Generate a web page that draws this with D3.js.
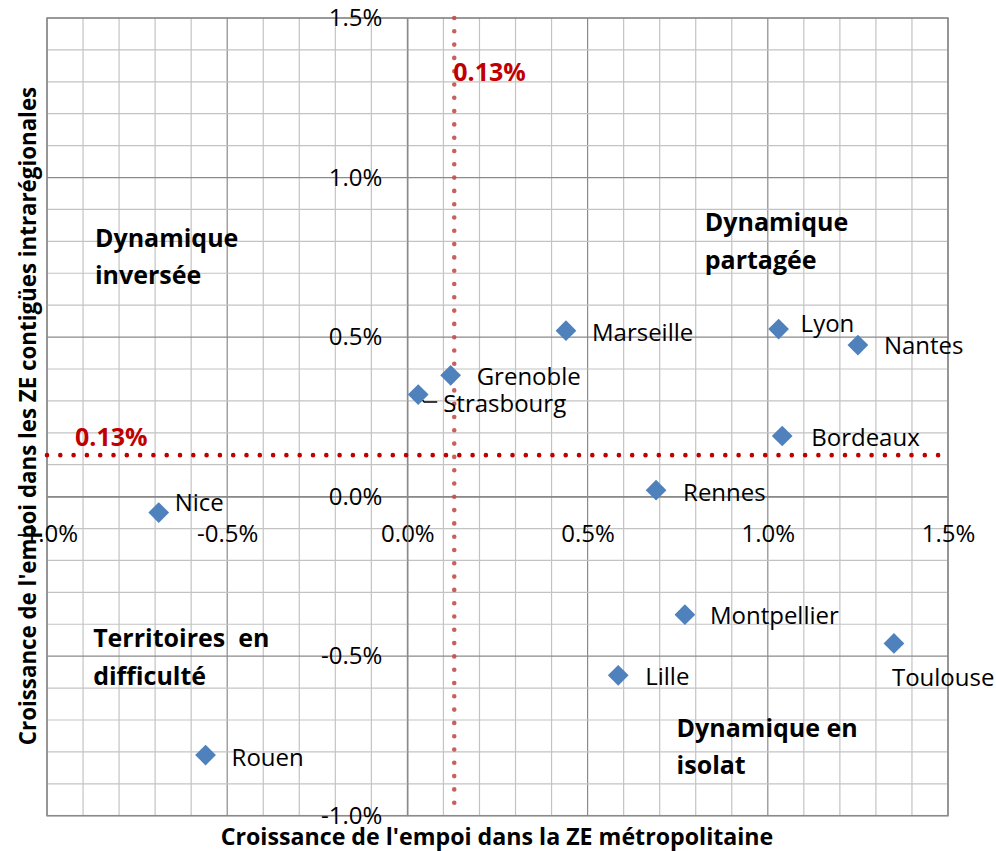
<!DOCTYPE html>
<html>
<head>
<meta charset="utf-8">
<script src="https://cdn.jsdelivr.net/npm/d3@7/dist/d3.min.js"></script>
<style>
  body { margin: 0; background: #fff; }
  svg { display: block; font-family: "Open Sans", sans-serif; }
</style>
</head>
<body>
<svg id="chart" width="996" height="851"></svg>
<script>
const cities = ["Nice", "Rouen", "Rennes", "Grenoble", "Strasbourg", "Marseille",
  "Lyon", "Nantes", "Bordeaux", "Montpellier", "Lille", "Toulouse"]
// croissance dans la ZE metropolitaine (%)
const metroGrowth = [-0.69, -0.56, 0.69, 0.12, 0.03, 0.44, 1.03, 1.25, 1.04, 0.77, 0.585, 1.35]
// croissance dans les ZE contigues intraregionales (%)
const regionGrowth = [-0.05, -0.81, 0.02, 0.38, 0.32, 0.52, 0.525, 0.475, 0.19, -0.37, -0.56, -0.46]
const threshold = 0.13
const axisTicks = [-1.0, -0.5, 0.0, 0.5, 1.0, 1.5]

// label offsets from the diamond (px)
const labelDx = [16, 26, 27, 26, 25, 26, 22, 26, 29, 25, 27, -2]
const labelDy = [-2, 11, 11, 10, 17, 10, 3, 9, 10, 9, 10, 43]

const quadrants = [
  { lines: ["Dynamique", "inversée"], x: -0.867, y: 0.783 },
  { lines: ["Dynamique", "partagée"], x: 0.825, y: 0.832 },
  { lines: ["Territoires  en", "difficulté"], x: -0.872, y: -0.472 },
  { lines: ["Dynamique en", "isolat"], x: 0.747, y: -0.753 }
]

const svg = d3.select("#chart")
const x = d3.scaleLinear().domain([-1, 1.5]).range([47, 948])
const y = d3.scaleLinear().domain([-1, 1.5]).range([815.7, 18])
const fmt = d => d.toFixed(1) + "%"

// grid
const grid = svg.append("g")
grid.selectAll(".vx").data(x.ticks(25)).join("line")
  .attr("x1", d => x(d)).attr("x2", d => x(d))
  .attr("y1", y(1.5)).attr("y2", y(-1))
  .attr("stroke", (d, i) => i % 5 == 0 ? "#8a8a8a" : "#c3c3c3")
  .attr("stroke-width", 1.2)
grid.selectAll(".hy").data(y.ticks(25)).join("line")
  .attr("y1", d => y(d)).attr("y2", d => y(d))
  .attr("x1", x(-1)).attr("x2", x(1.5))
  .attr("stroke", (d, i) => i % 5 == 0 ? "#8a8a8a" : "#c3c3c3")
  .attr("stroke-width", 1.2)
svg.append("rect")
  .attr("x", x(-1)).attr("y", y(1.5))
  .attr("width", x(1.5) - x(-1)).attr("height", y(-1) - y(1.5))
  .attr("fill", "none").attr("stroke", "#8a8a8a").attr("stroke-width", 1.5)

// axes crossing at 0
const xAxis = svg.append("g")
  .attr("transform", `translate(0,${y(0)})`)
  .call(d3.axisBottom(x).tickValues(axisTicks).tickFormat(fmt).tickSize(0).tickPadding(28))
const yAxis = svg.append("g")
  .attr("transform", `translate(${x(0)},0)`)
  .call(d3.axisLeft(y).tickValues(axisTicks).tickFormat(fmt).tickSize(0).tickPadding(25))
for (const g of [xAxis, yAxis]) {
  g.select(".domain").attr("stroke", "#8a8a8a").attr("stroke-width", 1.2)
  g.selectAll("text")
    .attr("font-family", "Open Sans, sans-serif")
    .attr("font-size", 24)
    .attr("fill", "#000")
}

// threshold lines
svg.append("line")
  .attr("x1", x(threshold)).attr("x2", x(threshold))
  .attr("y1", y(1.5)).attr("y2", y(-1))
  .attr("stroke", "#c0504d").attr("stroke-opacity", 0.9)
  .attr("stroke-width", 4.6).attr("stroke-linecap", "round")
  .attr("stroke-dasharray", "0 13.3")
svg.append("line")
  .attr("x1", x(-1)).attr("x2", x(1.5))
  .attr("y1", y(threshold)).attr("y2", y(threshold))
  .attr("stroke", "#c00000")
  .attr("stroke-width", 4.6).attr("stroke-linecap", "round")
  .attr("stroke-dasharray", "0 13.3")

svg.append("text")
  .attr("x", x(threshold) - 1).attr("y", 81)
  .attr("font-size", 25).attr("font-weight", "bold").attr("fill", "#c00000")
  .text(threshold.toFixed(2) + "%")
svg.append("text")
  .attr("x", 75).attr("y", y(threshold) - 9)
  .attr("font-size", 25).attr("font-weight", "bold").attr("fill", "#c00000")
  .text(threshold.toFixed(2) + "%")

// quadrant captions
quadrants.forEach(q => {
  svg.append("text")
    .attr("x", x(q.x)).attr("y", y(q.y))
    .attr("font-size", 25).attr("font-weight", "bold").attr("fill", "#000")
    .attr("xml:space", "preserve")
    .selectAll("tspan").data(q.lines).join("tspan")
    .attr("x", x(q.x)).attr("dy", (d, i) => i == 0 ? 0 : 37.5)
    .text(d => d)
})

// Strasbourg leader line
const si = cities.indexOf("Strasbourg")
const sx = x(metroGrowth[si]), sy = y(regionGrowth[si])
svg.append("path")
  .attr("d", d3.line()([[sx + 2, sy + 3], [sx + 6, sy + 7.5], [sx + 19, sy + 7.5]]))
  .attr("fill", "none").attr("stroke", "#000").attr("stroke-width", 1.3)

// points
svg.append("g").selectAll("path").data(cities).join("path")
  .attr("d", d3.symbol(d3.symbolSquare, 215))
  .attr("transform", (d, i) => `translate(${x(metroGrowth[i])},${y(regionGrowth[i])}) rotate(45)`)
  .attr("fill", "#4f81bd")

svg.append("g").selectAll("text").data(cities).join("text")
  .attr("x", (d, i) => x(metroGrowth[i]) + labelDx[i])
  .attr("y", (d, i) => y(regionGrowth[i]) + labelDy[i])
  .attr("font-size", 24).attr("fill", "#000")
  .text(d => d)

// axis titles
svg.append("text")
  .attr("x", 497).attr("y", 844.5)
  .attr("text-anchor", "middle")
  .attr("font-size", 23.2).attr("font-weight", "bold")
  .text("Croissance de l'empoi dans la ZE métropolitaine")
svg.append("text")
  .attr("transform", "translate(36,416) rotate(-90)")
  .attr("text-anchor", "middle")
  .attr("font-size", 22.3).attr("font-weight", "bold")
  .text("Croissance de l'empoi dans les ZE contigües intrarégionales")
</script>
</body>
</html>
